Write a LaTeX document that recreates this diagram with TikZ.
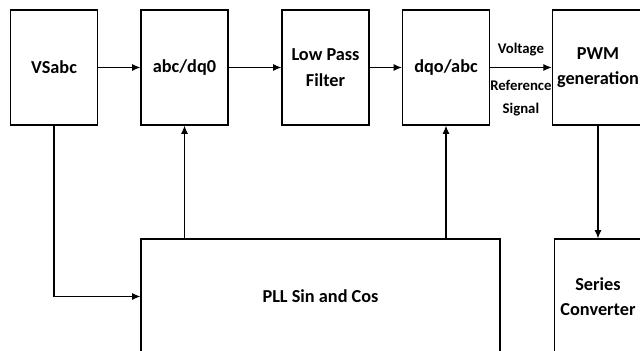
\documentclass[tikz,border=0pt]{standalone}
\usepackage{fontspec}
\setmainfont{Carlito}
\usepackage{tikz}
\usetikzlibrary{arrows.meta,positioning}

\begin{document}
\begin{tikzpicture}[
  block/.style={draw, line width=0.8pt, align=center, minimum width=2.175cm,
                minimum height=2.875cm, font=\fontsize{13}{18}\selectfont\bfseries},
  lbl/.style={font=\fontsize{10.5}{16}\selectfont\bfseries, inner sep=1pt},
  >={Latex[length=6pt,width=5pt]}]
\useasboundingbox (0,0) rectangle (16,8.75);
\node[block] (VS) at (1.35,7.0625) {VSabc};
\node[block] (ABC) at (4.6125,7.0625) {abc/dq0};
\node[block] (LPF) at (8.1375,7.0625) {Low Pass\\Filter};
\node[block] (DQO) at (11.15,7.0625) {dqo/abc};
\node[block] (PWM) at (14.95,7.0625) {PWM\\generation};
\node[block, minimum width=8.975cm] (PLL) at (8.0125,1.3375) {PLL Sin and Cos};
\node[block] (SC) at (14.95,1.3375) {Series\\Converter};
\draw[->, line width=0.8pt] (VS) -- (ABC);
\draw[->, line width=0.8pt] (ABC) -- (LPF);
\draw[->, line width=0.8pt] (LPF) -- (DQO);
\draw[->, line width=0.8pt] (DQO) -- node[lbl, above=7pt] {Voltage}
  node[lbl, below=8pt, align=center] {Reference\\Signal} (PWM);
\draw[->, line width=0.8pt] (PWM) -- (SC);
\draw[->, line width=0.8pt] (VS.south) |- (PLL.west);
\draw[->, line width=0.8pt] (PLL.north -| ABC) -- (ABC.south);
\draw[->, line width=0.8pt] (PLL.north -| DQO) -- (DQO.south);
\end{tikzpicture}
\end{document}
